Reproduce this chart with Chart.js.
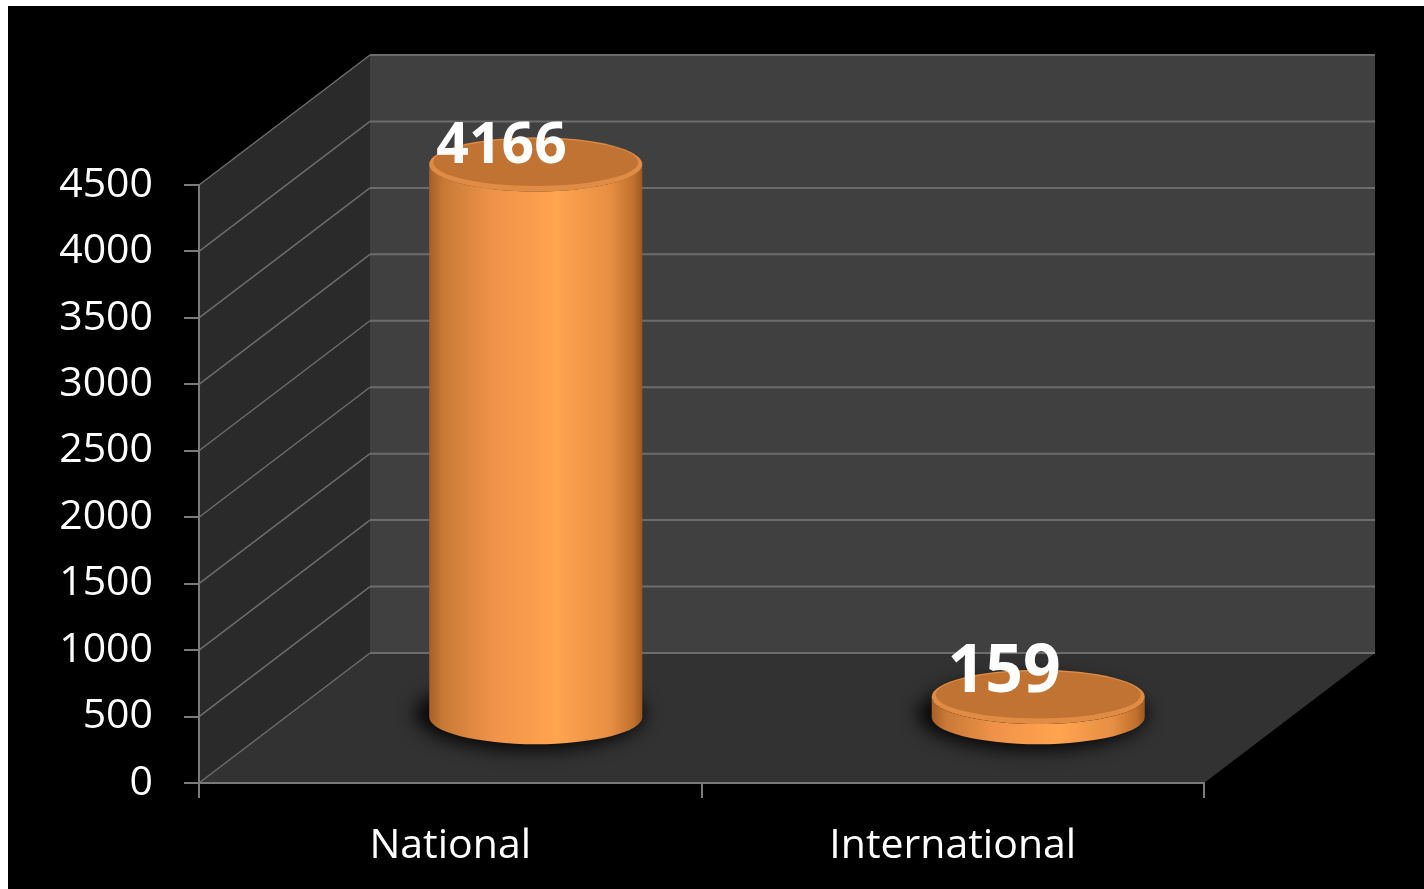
<!DOCTYPE html>
<html><head><meta charset="utf-8">
<script src="https://cdn.jsdelivr.net/npm/chart.js@4.4.1/dist/chart.umd.min.js"></script>
<style>html,body{margin:0;padding:0;background:#fff;overflow:hidden}#wrap{width:1424px;height:889px}</style>
</head><body><div id="wrap"><canvas id="c" width="1424" height="889"></canvas></div>
<script>
const categories = ['National', 'International'];
const values = [4166, 159];
const yMin = 0, yMax = 4500, yStep = 500;
const tickValues = [0, 500, 1000, 1500, 2000, 2500, 3000, 3500, 4000, 4500];

const DX = 171, DY = -130;           // 3D depth offset
const GRID = '#6c6c6c', AXIS = '#7a7a7a';
const LABEL_SIZES = [57, 66];        // data label font sizes (perspective)
const LABEL_LIFT = [1.5, 5];

function poly(ctx, pts, fill) {
  ctx.beginPath();
  ctx.moveTo(pts[0][0], pts[0][1]);
  for (let i = 1; i < pts.length; i++) ctx.lineTo(pts[i][0], pts[i][1]);
  ctx.closePath();
  ctx.fillStyle = fill; ctx.fill();
}
function line(ctx, x1, y1, x2, y2, col, w) {
  ctx.beginPath(); ctx.moveTo(x1, y1); ctx.lineTo(x2, y2);
  ctx.strokeStyle = col; ctx.lineWidth = w; ctx.stroke();
}

const scene3d = {
  id: 'scene3d',
  beforeDraw(chart) {
    const ctx = chart.ctx, ys = chart.scales.y, a = chart.chartArea;
    ctx.save();
    ctx.fillStyle = '#fff'; ctx.fillRect(0, 0, chart.width, chart.height);
    ctx.fillStyle = '#000'; ctx.fillRect(8, 6, chart.width - 8, chart.height - 6);
    const L = a.left, R = a.right, T = ys.getPixelForValue(yMax), B = ys.getPixelForValue(yMin);
    poly(ctx, [[L, B], [L, T], [L + DX, T + DY], [L + DX, B + DY]], '#2a2a2a');
    poly(ctx, [[L + DX, T + DY], [R + DX, T + DY], [R + DX, B + DY], [L + DX, B + DY]], '#404040');
    poly(ctx, [[L, B], [R, B], [R + DX, B + DY], [L + DX, B + DY]], '#323232');
    tickValues.forEach(v => {
      const py = ys.getPixelForValue(v);
      line(ctx, L, py, L + DX, py + DY, GRID, 1.5);
      line(ctx, L + DX, py + DY, R + DX, py + DY, GRID, 2);
    });
    ctx.restore();
  },
  afterDatasetsDraw(chart) {
    const ctx = chart.ctx;
    const meta = chart.getDatasetMeta(0);
    meta.data.forEach((bar, i) => {
      const rx = bar.width / 2, ry = rx * 0.255;
      const cx = bar.x + DX / 2;
      const yt = bar.y + DY / 2, yb = bar.base + DY / 2;
      ctx.save();
      // shadow
      ctx.filter = 'blur(9px)';
      ctx.beginPath();
      ctx.ellipse(cx - 6, yb - 3, rx * 1.08, ry * 1.35, 0, 0, Math.PI * 2);
      ctx.fillStyle = 'rgba(0,0,0,0.85)'; ctx.fill();
      ctx.filter = 'none';
      // body
      const g = ctx.createLinearGradient(cx - rx, 0, cx + rx, 0);
      g.addColorStop(0, '#a85f27');
      g.addColorStop(0.07, '#c97a37');
      g.addColorStop(0.3, '#f09349');
      g.addColorStop(0.6, '#ffa44f');
      g.addColorStop(0.85, '#e68e43');
      g.addColorStop(0.96, '#c0702e');
      g.addColorStop(1, '#9c5821');
      ctx.beginPath();
      ctx.moveTo(cx - rx, yt);
      ctx.lineTo(cx - rx, yb);
      ctx.ellipse(cx, yb, rx, ry, 0, Math.PI, 0, true);
      ctx.lineTo(cx + rx, yt);
      ctx.ellipse(cx, yt, rx, ry, 0, 0, Math.PI, false);
      ctx.closePath();
      ctx.fillStyle = g; ctx.fill();
      // top face
      ctx.beginPath();
      ctx.ellipse(cx, yt, rx, ry, 0, 0, Math.PI * 2);
      ctx.fillStyle = '#e08c44'; ctx.fill();
      ctx.beginPath();
      ctx.ellipse(cx, yt - 2, rx - 4, ry - 3.5, 0, 0, Math.PI * 2);
      ctx.fillStyle = '#c17334'; ctx.fill();
      // label
      ctx.font = 'bold ' + LABEL_SIZES[i] + 'px "Open Sans"';
      ctx.fillStyle = '#fff';
      ctx.textAlign = 'center';
      ctx.textBaseline = 'alphabetic';
      ctx.fillText(String(values[i]), bar.x + DX * 0.3, yt - LABEL_LIFT[i]);
      ctx.restore();
    });
  }
};

new Chart(document.getElementById('c'), {
  type: 'bar',
  data: {
    labels: categories,
    datasets: [{ data: values, backgroundColor: 'rgba(0,0,0,0)', borderWidth: 0,
      categoryPercentage: 1, barPercentage: 0.424 }]
  },
  plugins: [scene3d],
  options: {
    responsive: false, animation: false, devicePixelRatio: 1,
    layout: { padding: { top: 185, right: 220, left: 0, bottom: 0 } },
    plugins: { legend: { display: false }, tooltip: { enabled: false } },
    scales: {
      x: {
        offset: true,
        grid: { offset: true, drawOnChartArea: false, drawTicks: true, tickLength: 15, color: AXIS, lineWidth: 2 },
        border: { display: true, color: AXIS, width: 2 },
        ticks: { color: '#fff', font: { family: 'Open Sans', size: 41 }, padding: 24 },
        afterFit(s) { s.height = 106; }
      },
      y: {
        min: yMin, max: yMax,
        grid: { drawOnChartArea: false, drawTicks: true, tickLength: 15, color: AXIS, lineWidth: 2 },
        border: { display: true, color: AXIS, width: 2 },
        ticks: { stepSize: yStep, color: '#fff', font: { family: 'Open Sans', size: 41 }, padding: 31,
          callback: v => String(v) },
        afterFit(s) { s.width = 199; }
      }
    }
  }
});
</script></body></html>
